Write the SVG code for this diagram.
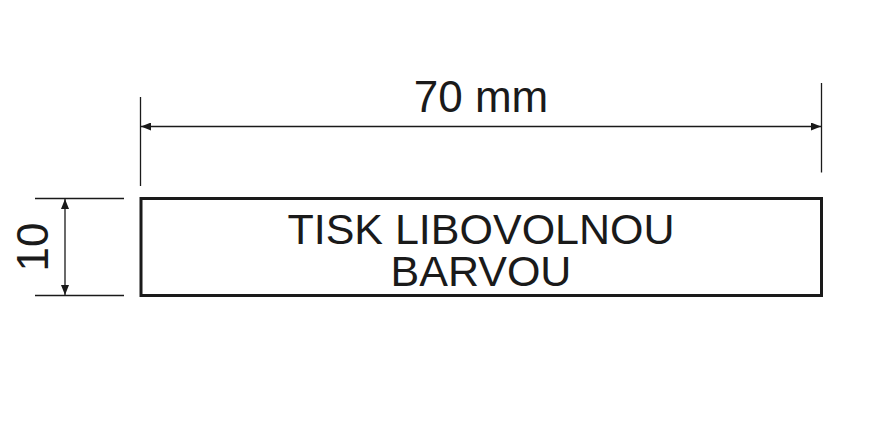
<svg xmlns="http://www.w3.org/2000/svg" width="885" height="422" viewBox="0 0 885 422">
<defs>
<style>
.dim{stroke:#1a1a1a;stroke-width:1.3;fill:none}
.lbl{font-family:"Liberation Sans",Arial,sans-serif;font-size:44px;fill:#1a1a1a;text-anchor:middle}
.box{font-size:43px}
</style>
<marker id="arr" viewBox="0 0 10 8" refX="10" refY="4" markerWidth="10" markerHeight="8" markerUnits="userSpaceOnUse" orient="auto-start-reverse">
<path d="M0,0 L10,4 L0,8 Z" fill="#1a1a1a"/>
</marker>
</defs>
<rect width="885" height="422" fill="#ffffff"/>
<g id="connectors">
<line class="dim" x1="140.5" y1="97" x2="140.5" y2="186"/>
<line class="dim" x1="821.5" y1="83" x2="821.5" y2="172.5"/>
<line class="dim" x1="141" y1="126.5" x2="821" y2="126.5" marker-start="url(#arr)" marker-end="url(#arr)"/>
<line class="dim" x1="35" y1="198.5" x2="124" y2="198.5"/>
<line class="dim" x1="35" y1="295.5" x2="124" y2="295.5"/>
<line class="dim" x1="65" y1="199" x2="65" y2="295" marker-start="url(#arr)" marker-end="url(#arr)"/>
</g>
<g id="dim-width">
<text class="lbl" x="481" y="112">70 mm</text>
</g>
<g id="dim-height">
<text class="lbl" transform="translate(48,247) rotate(-90)">10</text>
</g>
<g id="label-box">
<rect x="141" y="198.5" width="680.5" height="97" fill="none" stroke="#1a1a1a" stroke-width="3"/>
<text class="lbl box" x="481" y="244">TISK LIBOVOLNOU</text>
<text class="lbl box" x="481" y="286">BARVOU</text>
</g>
</svg>
